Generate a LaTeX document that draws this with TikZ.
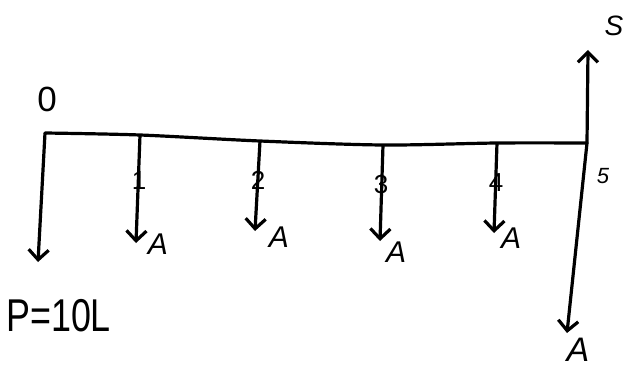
\documentclass[tikz,border=0pt]{standalone}
\usepackage{fontspec}
\setmainfont{Liberation Sans}
\usetikzlibrary{arrows.meta}
\begin{document}
\begin{tikzpicture}[x=1pt,y=-1pt,
  flow/.style={line width=3.2pt,-{Straight Barb[length=10pt,width=20pt,line width=3.2pt]}},
  axisline/.style={line width=3.2pt,line cap=round},
  lbl/.style={inner sep=0pt,font=\fontsize{35}{35}\selectfont},
  albl/.style={inner sep=0pt,font=\fontsize{30}{30}\selectfont\itshape},
  ticklbl/.style={inner sep=0pt,font=\fontsize{26}{26}\selectfont}]
\useasboundingbox (0,0) rectangle (629,369);
% time points on the axis
\coordinate (t0) at (45,133);
\coordinate (t1) at (140,135);
\coordinate (t2) at (260,141);
\coordinate (t3) at (383,145);
\coordinate (t4) at (497,143);
\coordinate (t5) at (587,143);
% arrow ends
\coordinate (e0) at (38,262);
\coordinate (e1) at (136,243);
\coordinate (e2) at (255,231);
\coordinate (e3) at (380,241);
\coordinate (e4) at (494,233);
\coordinate (eS) at (588,50);
\coordinate (e5) at (567,333);
\draw[axisline] plot[smooth,tension=0.5] coordinates {(45,133) (140,135) (260,141) (383,145) (497,143) (587,143)};
\draw[flow] (t0) -- (e0);
\draw[flow] (t1) -- (e1);
\draw[flow] (t2) -- (e2);
\draw[flow] (t3) -- (e3);
\draw[flow] (t4) -- (e4);
\draw[flow] (t5) -- (eS);
\draw[flow] (t5) -- (e5);
% labels
\node[lbl] (l0) at (47,99) {0};
\node[ticklbl] (l1) at (139,181) {1};
\node[ticklbl] (l2) at (258,180) {2};
\node[ticklbl] (l3) at (381,185) {3};
\node[ticklbl] (l4) at (496,183) {4};
\node[ticklbl,font=\fontsize{22}{22}\selectfont\itshape] (l5) at (603,176) {5};
\node[albl] (a1) at (158,244) {A};
\node[albl] (a2) at (279,237) {A};
\node[albl] (a3) at (396,252) {A};
\node[albl] (a4) at (511,238) {A};
\node[albl,font=\fontsize{34}{34}\selectfont\itshape] (a5) at (578,350) {A};
\node[albl,font=\fontsize{28}{28}\selectfont\itshape] (s) at (614,26) {S};
\node[lbl,anchor=west] (p) at (6,316) {\fontsize{46}{46}\selectfont\scalebox{0.78}[1]{P=10L}};
\end{tikzpicture}
\end{document}
